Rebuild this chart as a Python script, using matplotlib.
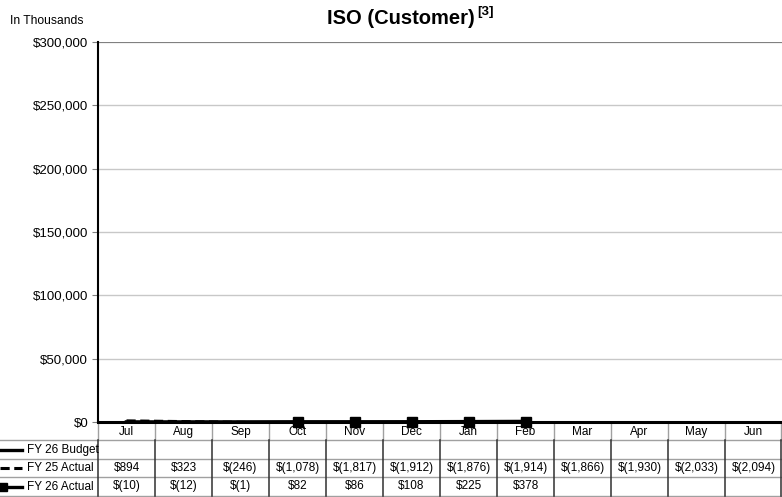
import numpy as np
import matplotlib
matplotlib.use("Agg")
import matplotlib.pyplot as plt
from matplotlib.ticker import FuncFormatter

# ---- data (in thousands) ----
months = ['Jul', 'Aug', 'Sep', 'Oct', 'Nov', 'Dec', 'Jan', 'Feb', 'Mar', 'Apr', 'May', 'Jun']
fy26_budget = []
fy25_actual = [894, 323, -246, -1078, -1817, -1912, -1876, -1914, -1866, -1930, -2033, -2094]
fy26_actual = [-10, -12, -1, 82, 86, 108, 225, 378]
series_names = ['FY 26 Budget', 'FY 25 Actual', 'FY 26 Actual']
y_ticks = [0, 50000, 100000, 150000, 200000, 250000, 300000]

plt.rcParams['font.family'] = ['Liberation Sans', 'DejaVu Sans']
NARROW = ['Liberation Sans Narrow', 'Liberation Sans', 'DejaVu Sans']

W, H = 782, 497
fig = plt.figure(figsize=(W / 100, H / 100), dpi=100, facecolor='white')

# pixel geometry
AX_L, AX_R, AX_T, AX_B = 98, 782, 42, 422
rows_y = [422, 440, 459, 477, 496]

# background layer in pixel coords for the data table
tab = fig.add_axes([0, 0, 1, 1], zorder=0)
tab.set_xlim(0, W)
tab.set_ylim(H, 0)
tab.axis('off')

ax = fig.add_axes([AX_L / W, (H - AX_B) / H, (AX_R - AX_L) / W, (AX_B - AX_T) / H], zorder=1)
ax.set_facecolor('none')

def money(v):
    return f'${v:,.0f}' if v >= 0 else f'$({-v:,.0f})'

x = np.arange(len(months))
ax.plot(x, fy25_actual, color='black', lw=2.2, ls=(0, (3, 1.5)), zorder=3, clip_on=True)
x26 = np.arange(len(fy26_actual))
y26 = np.array(fy26_actual, dtype=float)
ax.plot(x26, y26, color='black', lw=2.6, zorder=4)
mask = y26 >= 0
ax.plot(x26[mask], y26[mask], ls='none', marker='s', ms=7.5, color='black', zorder=5, clip_on=False)

ax.set_xlim(-0.5, len(months) - 0.5)
ax.set_ylim(0, 300000)
ax.set_yticks(y_ticks)
ax.yaxis.set_major_formatter(FuncFormatter(lambda v, p: money(v)))
ax.tick_params(axis='y', labelsize=9.5, length=4, color='#808080', pad=3)
ax.set_xticks([])
for yt in y_ticks[1:-1]:
    ax.axhline(yt, color='#c8c8c8', lw=1.0, zorder=1)
ax.axhline(300000, color='#808080', lw=1.6, zorder=1)
ax.spines['top'].set_visible(False)
ax.spines['right'].set_visible(False)
ax.spines['left'].set_linewidth(1.5)
ax.spines['bottom'].set_linewidth(2.2)
ax.spines['bottom'].set_zorder(2)

# titles
fig.text(401 / W, 1 - 18 / H, 'ISO (Customer)', ha='center', va='center',
         fontsize=14.5, fontweight='bold')
fig.text(477 / W, 1 - 12 / H, '[3]', ha='left', va='center', fontsize=9.5, fontweight='bold')
fig.text(10 / W, 1 - 21 / H, 'In Thousands', ha='left', va='center', fontsize=8.7)

# ---- data table ----
col_w = (AX_R - AX_L) / len(months)
for yy in rows_y[1:]:
    tab.plot([0, W], [yy, yy], color='#a0a0a0', lw=1.0)
for i in range(len(months) + 1):
    xx = AX_L + i * col_w
    if i == len(months):
        xx -= 1
    tab.plot([xx, xx], [rows_y[0], rows_y[1]], color='#a0a0a0', lw=1.0)
    tab.plot([xx, xx], [rows_y[1], rows_y[-1]], color='#303030', lw=1.1)

for i, m in enumerate(months):
    cx = AX_L + (i + 0.5) * col_w
    tab.text(cx, (rows_y[0] + rows_y[1]) / 2 + 1, m, ha='center', va='center',
             fontsize=8.5, family=NARROW)
    if i < len(fy25_actual):
        tab.text(cx, (rows_y[2] + rows_y[3]) / 2, money(fy25_actual[i]), ha='center',
                 va='center', fontsize=8.5, family=NARROW)
    if i < len(fy26_actual):
        tab.text(cx, (rows_y[3] + rows_y[4]) / 2, money(fy26_actual[i]), ha='center',
                 va='center', fontsize=8.5, family=NARROW)

# legend keys in the row header
for r, name in enumerate(series_names):
    cy = (rows_y[r + 1] + rows_y[r + 2]) / 2
    if r == 0:
        tab.plot([0, 22], [cy, cy], color='black', lw=2.4)
    elif r == 1:
        tab.plot([0, 22], [cy, cy], color='black', lw=2.2, ls=(0, (3, 1.5)))
    else:
        tab.plot([0, 22], [cy, cy], color='black', lw=2.4)
        tab.plot([3], [cy], marker='s', ms=6, color='black')
    tab.text(27, cy, name, ha='left', va='center', fontsize=8.5, family=NARROW)

fig.savefig('out.png', dpi=100, facecolor='white')
